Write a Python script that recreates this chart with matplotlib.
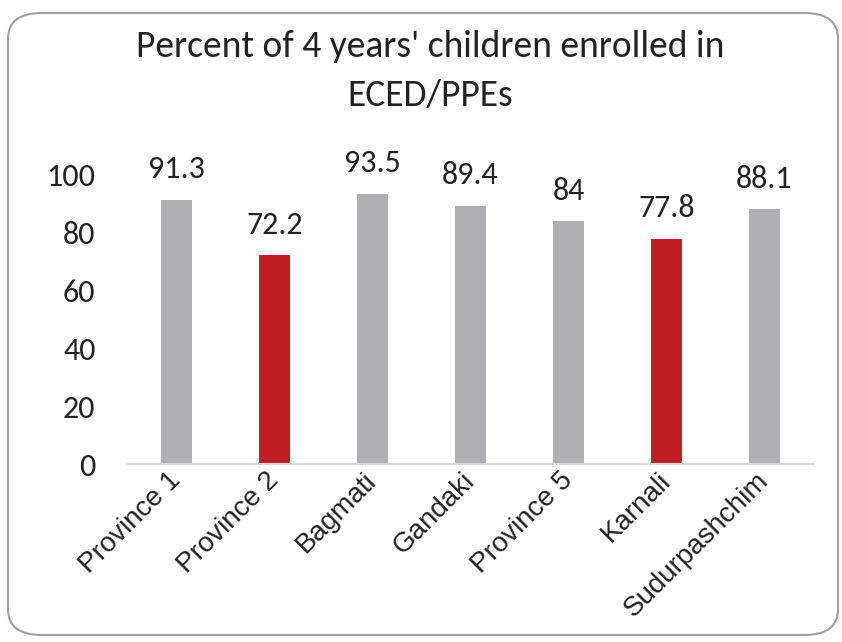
import matplotlib
matplotlib.use("Agg")
import matplotlib.pyplot as plt
from matplotlib.patches import FancyBboxPatch

categories = ["Province 1", "Province 2", "Bagmati", "Gandaki", "Province 5", "Karnali", "Sudurpashchim"]
values = [91.3, 72.2, 93.5, 89.4, 84, 77.8, 88.1]
value_labels = ["91.3", "72.2", "93.5", "89.4", "84", "77.8", "88.1"]
highlight = [False, True, False, False, False, True, False]
yticks = [0, 20, 40, 60, 80, 100]

GRAY = "#AEAFB3"
RED = "#C01F26"
TXT = "#222222"
CAL = ['Carlito', 'Open Sans', 'DejaVu Sans']

plt.rcParams['font.family'] = ['Liberation Sans', 'DejaVu Sans']

fig = plt.figure(figsize=(8.42, 6.42), dpi=100)
ax = fig.add_axes([127.5/842, 1-464/642, (813.5-127.5)/842, (464-175)/642])

colors = [RED if h else GRAY for h in highlight]
x = list(range(len(categories)))
ax.bar(x, values, width=0.32, color=colors, zorder=2)

for xi, v, lab in zip(x, values, value_labels):
    ax.annotate(lab, (xi, v), xytext=(0, 12), textcoords="offset points",
                ha="center", va="bottom", fontsize=23, color=TXT,
                family=CAL, annotation_clip=False)

ax.set_xlim(-0.5, len(categories) - 0.5)
ax.set_ylim(0, 100)
ax.set_yticks(yticks)
ax.set_yticklabels([str(t) for t in yticks], fontsize=23, color=TXT, family=CAL)
ax.set_xticks(x)
ax.set_xticklabels(categories, rotation=45, ha="right", va="center",
                   rotation_mode="anchor", fontsize=20, color=TXT)
ax.tick_params(axis="both", length=0)
ax.tick_params(axis="y", pad=23)
ax.tick_params(axis="x", pad=9)
for s in ["top", "right", "left"]:
    ax.spines[s].set_visible(False)
ax.spines["bottom"].set_color("#D9D9D9")
ax.spines["bottom"].set_linewidth(1.5)

fig.text(430/842, 1-71/642, "Percent of 4 years' children enrolled in\nECED/PPEs",
         ha="center", va="center", fontsize=27, linespacing=1.62,
         family=CAL, color=TXT)

border = FancyBboxPatch((8/842, 7/642), (838-8)/842, (629-7)/642,
                        boxstyle="round,pad=0,rounding_size=0.04",
                        transform=fig.transFigure, facecolor="none",
                        edgecolor="#A0A0A0", linewidth=1.5)
fig.patches.append(border)

fig.savefig("out.png", dpi=100)
